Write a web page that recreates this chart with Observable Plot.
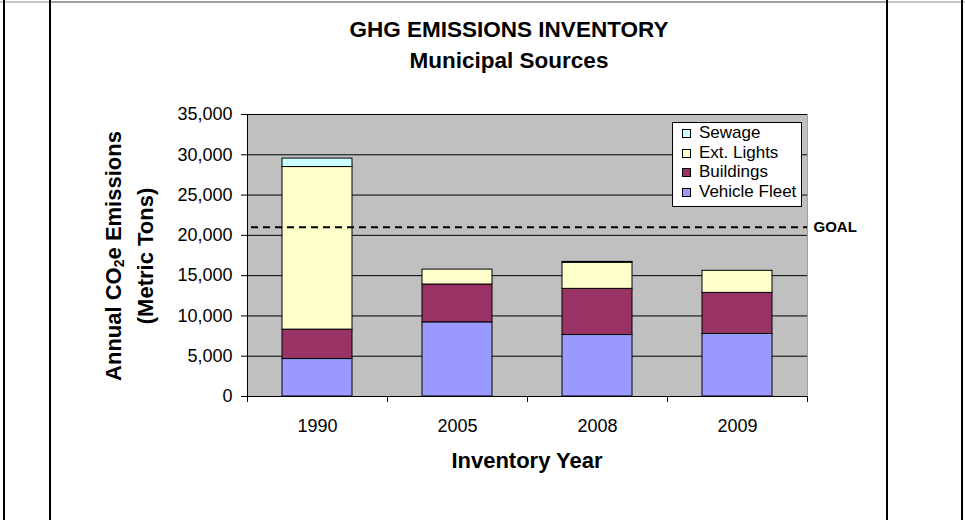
<!DOCTYPE html>
<html>
<head>
<meta charset="utf-8">
<script src="https://cdn.jsdelivr.net/npm/d3@7"></script>
<script src="https://cdn.jsdelivr.net/npm/@observablehq/plot@0.6"></script>
<style>
  html, body { margin: 0; padding: 0; background: #fff; }
  #page { position: relative; width: 965px; height: 520px; overflow: hidden; background: #fff;
          font-family: "Liberation Sans", Arial, sans-serif; color: #000; }
  .vline { position: absolute; top: 0; width: 2px; height: 520px; background: #000; }
  .hline { position: absolute; top: 1px; height: 2px; }
  #title { position: absolute; left: 309px; width: 400px; top: 14px; text-align: center;
           font-weight: bold; font-size: 22.5px; line-height: 31px; }
  #ytitle { position: absolute; left: -20px; top: 224px; width: 300px; height: 64px;
            transform: rotate(-90deg); transform-origin: 150px 32px; text-align: center;
            font-weight: bold; font-size: 22px; line-height: 32px; }
  #ytitle sub { font-size: 14px; vertical-align: -3px; line-height: 0; }
  #xtitle { position: absolute; left: 377px; width: 300px; top: 447px; text-align: center;
            font-weight: bold; font-size: 22px; line-height: 28px; }
  #legend { position: absolute; left: 672px; top: 122px; width: 130px; height: 85px; box-sizing: border-box;
            border: 1px solid #000; background: #fff; padding: 0 0 0 9px; }
  .lrow { height: 19.7px; line-height: 19.7px; font-size: 17px; white-space: nowrap; }
  .sw { display: inline-block; width: 7px; height: 7px; border: 1px solid #000; margin-right: 8px; vertical-align: 0px; }
  #chart { position: absolute; left: 0; top: 0; }
</style>
</head>
<body>
<div id="page">
  <div class="hline" style="left:0;width:50px;background:#c8c8c8"></div>
  <div class="hline" style="left:50px;width:838px;background:#a0a0a0"></div>
  <div class="hline" style="left:888px;width:77px;background:#c8c8c8"></div>
  <div class="vline" style="left:3px"></div>
  <div class="vline" style="left:49px"></div>
  <div class="vline" style="left:886px"></div>
  <div class="vline" style="left:961px"></div>
  <div id="chart"></div>
  <div id="title">GHG EMISSIONS INVENTORY<br>Municipal Sources</div>
  <div id="ytitle">Annual CO<sub>2</sub>e Emissions<br>(Metric Tons)</div>
  <div id="xtitle">Inventory Year</div>
  <div id="legend"></div>
</div>
<script>
// ---- data ----
const years = ["1990", "2005", "2008", "2009"];
const series = ["Vehicle Fleet", "Buildings", "Ext. Lights", "Sewage"];
const vehicleFleet = [4650, 9200, 7630, 7760];
const buildings = [3650, 4700, 5730, 5100];
const extLights = [20180, 1850, 3230, 2740];
const sewage = [1050, 0, 120, 0];
const seriesColors = ["#9999FF", "#993366", "#FFFFCC", "#CCFFFF"];
const goal = 21000;
const yTicks = [0, 5000, 10000, 15000, 20000, 25000, 30000, 35000];
const goalLabel = "GOAL";

// ---- build stacked rows ----
const values = [vehicleFleet, buildings, extLights, sewage];
const rows = [];
years.forEach((yr, i) => {
  let acc = 0;
  series.forEach((s, k) => {
    const v = values[k][i];
    if (v > 0) rows.push({year: yr, x1: i, x2: i + 1, y1: acc, y2: acc + v, series: s});
    acc += v;
  });
});
const bounds = d3.range(years.length + 1);
const centers = years.map((_, i) => i + 0.5);

const chart = Plot.plot({
  width: 965,
  height: 520,
  marginLeft: 247,
  marginRight: 158,
  marginTop: 114,
  marginBottom: 124,
  style: {fontFamily: "'Liberation Sans', Arial, sans-serif", fontSize: "18px", color: "#000", background: "transparent", overflow: "visible"},
  x: {type: "linear", domain: [0, years.length]},
  y: {domain: [0, 35000]},
  color: {domain: series, range: seriesColors},
  marks: [
    Plot.frame({fill: "#c0c0c0", stroke: "#a0a0a0"}),
    Plot.gridY(yTicks, {stroke: "#000", strokeOpacity: 1, strokeWidth: 1}),
    Plot.rect(rows, {x1: "x1", x2: "x2", y1: "y1", y2: "y2", fill: "series", stroke: "#000", strokeWidth: 1, insetLeft: 35, insetRight: 35}),
    Plot.ruleY([goal], {stroke: "#000", strokeWidth: 2, strokeDasharray: "7,5", insetLeft: 4}),
    Plot.text([goal], {y: d => d, frameAnchor: "right", text: () => goalLabel, textAnchor: "start", dx: 6, fontWeight: "bold", fontSize: 15, fill: "#000"}),
    Plot.ruleX([0], {stroke: "#000", strokeWidth: 1}),
    Plot.ruleY([0], {stroke: "#000", strokeWidth: 1}),
    Plot.axisY({ticks: yTicks, tickSize: 6, tickPadding: 9, tickFormat: d3.format(","), label: null, color: "#000", fontSize: 18}),
    Plot.axisX({ticks: bounds, tickSize: 6, tickFormat: () => "", label: null, color: "#000"}),
    Plot.axisX({ticks: centers, tickSize: 0, tickPadding: 23, tickFormat: d => years[Math.floor(d)], label: null, color: "#000", fontSize: 18})
  ]
});
document.getElementById("chart").appendChild(chart);

// ---- legend (top series first) ----
const legend = document.getElementById("legend");
series.slice().reverse().forEach(s => {
  const row = document.createElement("div");
  row.className = "lrow";
  const sw = document.createElement("span");
  sw.className = "sw";
  sw.style.background = seriesColors[series.indexOf(s)];
  row.appendChild(sw);
  row.appendChild(document.createTextNode(s));
  legend.appendChild(row);
});
</script>
</body>
</html>
